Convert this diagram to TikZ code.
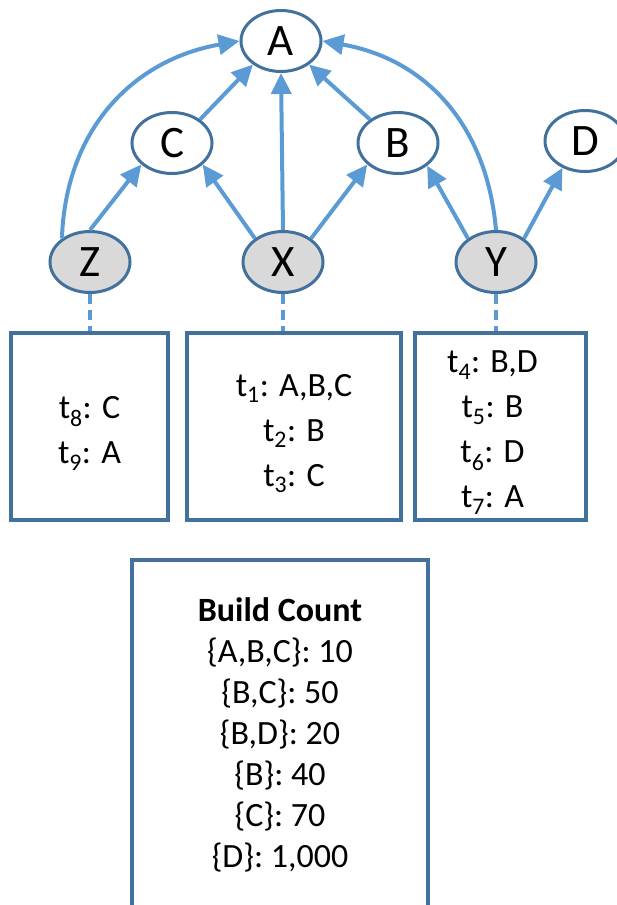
\documentclass[tikz,border=0pt]{standalone}
\usepackage{fontspec}
\setmainfont{Carlito}
\usetikzlibrary{shapes.geometric,arrows.meta}
\definecolor{edgeblue}{RGB}{91,155,213}
\definecolor{darkblue}{RGB}{65,113,156}
\definecolor{nodegray}{RGB}{217,217,217}
\begin{document}
\begin{tikzpicture}[x=1pt,y=-1pt,
  var/.style={ellipse,draw=darkblue,line width=3pt,fill=white,minimum width=80pt,minimum height=61pt,inner sep=0pt,font=\fontsize{45}{50}\selectfont},
  obs/.style={var,fill=nodegray},
  arr/.style={draw=edgeblue,line width=4pt,-{Triangle[length=21pt,width=20pt]}},
  dashlink/.style={draw=edgeblue,line width=4pt,dash pattern=on 10pt off 6pt},
  txbox/.style={draw=darkblue,line width=3.5pt,rectangle,inner sep=0pt,minimum height=187pt},
  boxtext/.style={align=center,inner sep=0pt,font=\fontsize{34}{45}\selectfont},
  bctext/.style={align=center,inner sep=0pt,font=\fontsize{34}{41}\selectfont}
]
\useasboundingbox (0,0) rectangle (616,905);

\node[var] (A) at (281,41) {A};
\node[var] (C) at (172,143) {C};
\node[var] (B) at (398,143) {B};
\node[var] (D) at (585,141) {D};
\node[obs] (Z) at (90,262) {Z};
\node[obs] (X) at (283,262) {X};
\node[obs] (Y) at (496,262) {Y};

\node[txbox,minimum width=157pt] (zbox) at (89.5,426.5) {};
\node[txbox,minimum width=214pt] (xbox) at (294,426.5) {};
\node[txbox,minimum width=171pt] (ybox) at (500.5,426.5) {};
\node[boxtext] (ztext) at ([yshift=-7pt]zbox.center) {t\textsubscript{8}: C\\t\textsubscript{9}: A};
\node[boxtext] (xtext) at ([yshift=-7pt]xbox.center) {t\textsubscript{1}: A,B,C\\t\textsubscript{2}: B\\t\textsubscript{3}: C};
\node[boxtext] (ytext) at ([yshift=-6pt,xshift=-8pt]ybox.center) {t\textsubscript{4}: B,D\\t\textsubscript{5}: B\\t\textsubscript{6}: D\\t\textsubscript{7}: A};

\node[draw=darkblue,line width=3.5pt,rectangle,minimum width=296pt,minimum height=360pt] (bcbox) at (280,740) {};
\node[bctext] (bc) at (280,735) {\textbf{Build Count}\\\{A,B,C\}: 10\\\{B,C\}: 50\\\{B,D\}: 20\\\{B\}: 40\\\{C\}: 70\\\{D\}: 1,000};

\draw[arr] (Z.140) to[out=88,in=190,looseness=1.05] (A.180);
\draw[arr] (Y.90) to[out=95,in=-10,looseness=1.05] (A.0);
\draw[arr] (Z.90) -- (C.215);
\draw[arr] (X.140) -- (C.-35);
\draw[arr] (X.north) -- (A.south);
\draw[arr] (X.40) -- (B.215);
\draw[arr] (C.40) -- (A.220);
\draw[arr] (B.140) -- (A.-40);
\draw[arr] (Y.140) -- (B.-38);
\draw[arr] (Y.40) -- (D.230);

\draw[dashlink] (Z.south) -- (Z.south |- zbox.north);
\draw[dashlink] (X.south) -- (X.south |- xbox.north);
\draw[dashlink] (Y.south) -- (Y.south |- ybox.north);
\end{tikzpicture}
\end{document}
